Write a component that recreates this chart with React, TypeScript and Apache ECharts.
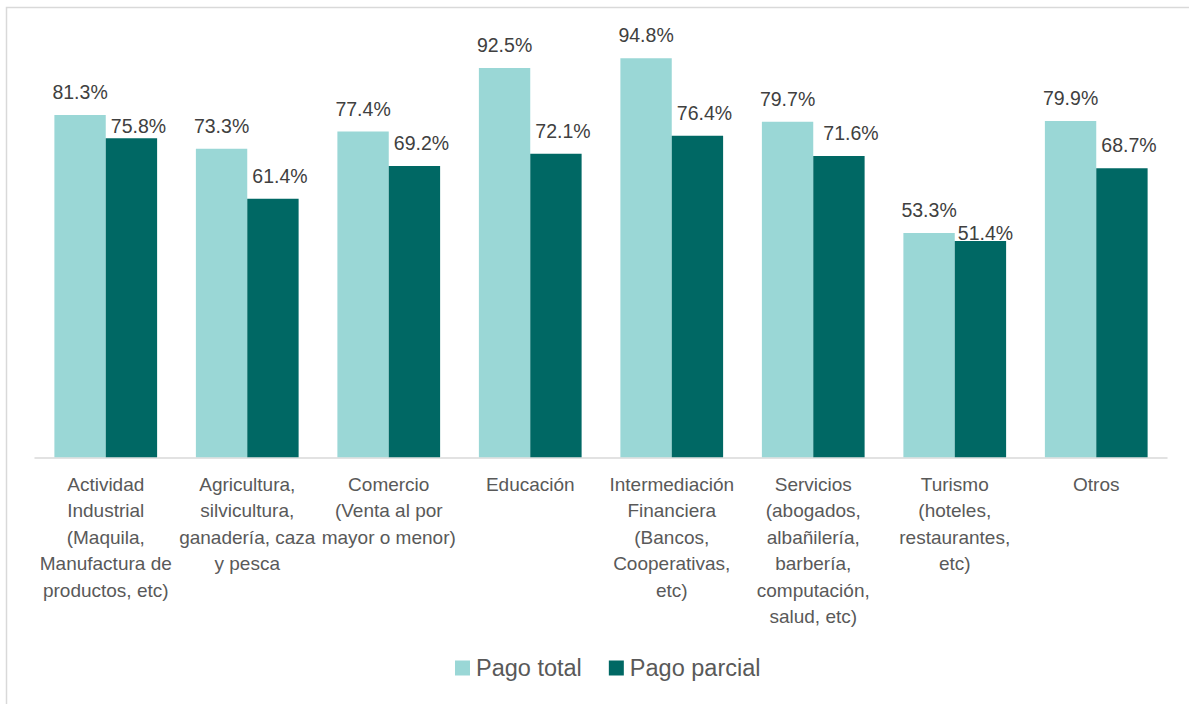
import React, { useEffect, useRef } from "react";
import * as echarts from "echarts";

const categories: string[] = [
  "Actividad\nIndustrial\n(Maquila,\nManufactura de\nproductos, etc)",
  "Agricultura,\nsilvicultura,\nganadería, caza\ny pesca",
  "Comercio\n(Venta al por\nmayor o menor)",
  "Educación",
  "Intermediación\nFinanciera\n(Bancos,\nCooperativas,\netc)",
  "Servicios\n(abogados,\nalbañilería,\nbarbería,\ncomputación,\nsalud, etc)",
  "Turismo\n(hoteles,\nrestaurantes,\netc)",
  "Otros",
];

const pagoTotal: number[] = [81.3, 73.3, 77.4, 92.5, 94.8, 79.7, 53.3, 79.9];
const pagoParcial: number[] = [75.8, 61.4, 69.2, 72.1, 76.4, 71.6, 51.4, 68.7];

const seriesNames: string[] = ["Pago total", "Pago parcial"];

const FONT = "'Liberation Sans', Arial, sans-serif";
const LIGHT = "#9AD7D6";
const DARK = "#006864";

export default function App() {
  const ref = useRef<HTMLDivElement>(null);

  useEffect(() => {
    if (!ref.current) return;
    const chart = echarts.init(ref.current, undefined, { renderer: "svg" });

    const fmt = (p: any) => `${Number(p.value).toFixed(1)}%`;

    const labelBase = {
      show: true,
      position: "top" as const,
      distance: 13,
      color: "#404040",
      fontSize: 19.5,
      fontFamily: FONT,
      formatter: fmt,
    };

    const darkData = pagoParcial.map((v, i) => {
      const lbl: any = { offset: [7, 0] };
      if (i === 0) lbl.distance = 2;
      if (i === 6) { lbl.distance = -2; lbl.offset = [5, 0]; }
      if (i === 5) lbl.offset = [12, 0];
      return { value: v, label: lbl };
    });

    chart.setOption({
      animation: false,
      backgroundColor: "#ffffff",
      graphic: [
        {
          type: "rect",
          shape: { x: 6.5, y: 7.5, width: 1400, height: 900 },
          style: { fill: "none", stroke: "#D9D9D9", lineWidth: 1.5 },
          silent: true,
        },
      ],
      grid: { left: 35, right: 22, top: 36.4, bottom: 246.7, containLabel: false },
      legend: {
        data: seriesNames,
        left: 450,
        top: 651,
        itemWidth: 15,
        itemHeight: 15,
        itemGap: 27,
        icon: "rect",
        textStyle: { color: "#595959", fontSize: 23.5, fontFamily: FONT, lineHeight: 24, padding: [0, 0, 0, 1] },
      },
      xAxis: {
        type: "category",
        data: categories,
        axisLine: { lineStyle: { color: "#D9D9D9", width: 1.5 } },
        axisTick: { show: false },
        axisLabel: {
          interval: 0,
          color: "#595959",
          fontSize: 19,
          fontFamily: FONT,
          lineHeight: 26.5,
          margin: 13.5,
          align: "center",
        },
      },
      yAxis: {
        type: "value",
        min: 0,
        max: 100,
        show: false,
        splitLine: { show: false },
      },
      series: [
        {
          name: seriesNames[0],
          type: "bar",
          data: pagoTotal,
          itemStyle: { color: LIGHT },
          barGap: "0%",
          barCategoryGap: "27.4%",
          label: labelBase,
        },
        {
          name: seriesNames[1],
          type: "bar",
          data: darkData,
          itemStyle: { color: DARK },
          barGap: "0%",
          barCategoryGap: "27.4%",
          label: labelBase,
        },
      ],
    });

    return () => chart.dispose();
  }, []);

  return (
    <div
      ref={ref}
      style={{ position: "fixed", left: 0, top: 0, width: 1189, height: 704 }}
    />
  );
}
